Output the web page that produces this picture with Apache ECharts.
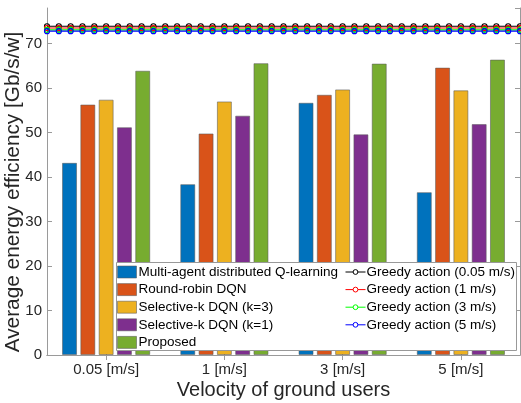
<!DOCTYPE html>
<html>
<head>
<meta charset="utf-8">
<script src="https://cdn.jsdelivr.net/npm/echarts@6/dist/echarts.min.js"></script>
<style>html,body{margin:0;padding:0;background:#fff}#c{width:521px;height:403px}</style>
</head>
<body>
<div id="c"></div>
<script>
var categories = ['0.05 [m/s]', '1 [m/s]', '3 [m/s]', '5 [m/s]'];
var barNames = ['Multi-agent distributed Q-learning', 'Round-robin DQN', 'Selective-k DQN (k=3)', 'Selective-k DQN (k=1)', 'Proposed'];
var multiAgentQ = [43.2, 38.4, 56.7, 36.6];
var roundRobinDQN = [56.3, 49.8, 58.5, 64.6];
var selectiveK3 = [57.4, 57.0, 59.7, 59.5];
var selectiveK1 = [51.2, 53.8, 49.6, 51.9];
var proposed = [63.9, 65.6, 65.5, 66.4];
var barColors = ['#0072BD', '#D95319', '#EDB120', '#7E2F8E', '#77AC30'];

var greedyNames = ['Greedy action (0.05 m/s)', 'Greedy action (1 m/s)', 'Greedy action (3 m/s)', 'Greedy action (5 m/s)'];
var greedyValues = [73.9, 73.5, 73.1, 72.8];
var greedyColors = ['#000000', '#FF0000', '#00FF00', '#0000FF'];
var lineX = [0.5,0.6,0.7,0.8,0.9,1.0,1.1,1.2,1.3,1.4,1.5,1.6,1.7,1.8,1.9,2.0,2.1,2.2,2.3,2.4,2.5,2.6,2.7,2.8,2.9,3.0,3.1,3.2,3.3,3.4,3.5,3.6,3.7,3.8,3.9,4.0,4.1,4.2,4.3,4.4,4.5];
var yTicks = [0, 10, 20, 30, 40, 50, 60, 70];
var xTitle = 'Velocity of ground users';
var yTitle = 'Average energy efficiency [Gb/s/w]';

var barData = [multiAgentQ, roundRobinDQN, selectiveK3, selectiveK1, proposed];
var FONT = '"Liberation Sans", Arial, sans-serif';
var axisGray = '#9a9a9a';
var labelColor = '#262626';

var series = [];
barData.forEach(function (d, i) {
  series.push({
    name: barNames[i], type: 'bar', xAxisIndex: 0, yAxisIndex: 0,
    data: d, barWidth: 15, barGap: '22%',
    itemStyle: { color: barColors[i], borderColor: 'rgba(90,90,90,0.55)', borderWidth: 1 },
    z: 2
  });
});
greedyValues.forEach(function (v, i) {
  series.push({
    name: greedyNames[i], type: 'line', xAxisIndex: 2, yAxisIndex: 0,
    data: lineX.map(function (x) { return [x, v]; }),
    symbol: 'circle', symbolSize: 5, showSymbol: true,
    lineStyle: { color: greedyColors[i], width: 1.2 },
    itemStyle: { color: 'rgba(255,255,255,0)', borderColor: greedyColors[i], borderWidth: 1.2 },
    animation: false, z: 3
  });
});

var chart = echarts.init(document.getElementById('c'), null, { renderer: 'canvas' });
chart.setOption({
  animation: false,
  backgroundColor: '#fff',
  textStyle: { fontFamily: FONT },
  grid: { left: 47, right: 1, top: 8, bottom: 48, containLabel: false, outerBoundsMode: 'none' },
  xAxis: [
    {
      type: 'category', data: categories, position: 'bottom',
      axisLine: { show: true, lineStyle: { color: axisGray, width: 1 } },
      axisTick: { show: true, inside: true, alignWithLabel: true, length: 5, lineStyle: { color: axisGray } },
      axisLabel: { color: labelColor, fontSize: 15, margin: 7, fontFamily: FONT },
      splitLine: { show: false }
    },
    {
      type: 'category', data: categories, position: 'top',
      axisLine: { show: true, lineStyle: { color: axisGray, width: 1 } },
      axisTick: { show: true, inside: true, alignWithLabel: true, length: 5, lineStyle: { color: axisGray } },
      axisLabel: { show: false }, splitLine: { show: false }
    },
    {
      type: 'value', min: 0.5, max: 4.5, show: false
    }
  ],
  yAxis: [
    {
      type: 'value', min: 0, max: 78, interval: 10, position: 'left',
      axisLine: { show: true, lineStyle: { color: axisGray, width: 1 } },
      axisTick: { show: true, inside: true, length: 5, lineStyle: { color: axisGray } },
      axisLabel: { color: labelColor, fontSize: 15, margin: 5, fontFamily: FONT, showMaxLabel: false,
        formatter: function (v) { return yTicks.indexOf(v) >= 0 ? String(v) : ''; } },
      splitLine: { show: false }
    },
    {
      type: 'value', min: 0, max: 78, interval: 10, position: 'right',
      axisLine: { show: true, lineStyle: { color: axisGray, width: 1 } },
      axisTick: { show: true, inside: true, length: 5, lineStyle: { color: axisGray } },
      axisLabel: { show: false }, splitLine: { show: false }
    }
  ],
  graphic: [
    {
      type: 'rect', z: 10, silent: true,
      shape: { x: 116.5, y: 262.5, width: 400, height: 88 },
      style: { fill: '#fff', stroke: '#999', lineWidth: 1 }
    },
    {
      type: 'text', x: 283.5, y: 390, z: 10, silent: true,
      style: { text: xTitle, fill: labelColor, font: '20px ' + FONT, textAlign: 'center', textVerticalAlign: 'middle' }
    },
    {
      type: 'text', x: 13, y: 192, rotation: Math.PI / 2, z: 10, silent: true,
      style: { text: yTitle, fill: labelColor, font: '20.8px ' + FONT, textAlign: 'center', textVerticalAlign: 'middle' }
    }
  ],
  legend: [
    {
      data: barNames, orient: 'vertical', left: 117, top: 265, z: 20, icon: 'rect',
      itemWidth: 19, itemHeight: 12, itemGap: 3.6, padding: 0,
      textStyle: { color: '#000', fontSize: 13.5, fontFamily: FONT, lineHeight: 13, padding: [0, 0, 0, -3] },
      itemStyle: { borderColor: 'rgba(90,90,90,0.55)', borderWidth: 1 },
      selectedMode: false
    },
    {
      data: greedyNames, orient: 'vertical', left: 345, top: 265, z: 20,
      itemWidth: 20, itemHeight: 6, itemGap: 3.6, padding: 0,
      textStyle: { color: '#000', fontSize: 13.5, fontFamily: FONT, lineHeight: 13, padding: [0, 0, 0, -4] },
      itemStyle: { color: '#ffffff', borderWidth: 1 },
      lineStyle: { width: 1 },
      selectedMode: false
    }
  ],
  series: series
});
</script>
</body>
</html>
